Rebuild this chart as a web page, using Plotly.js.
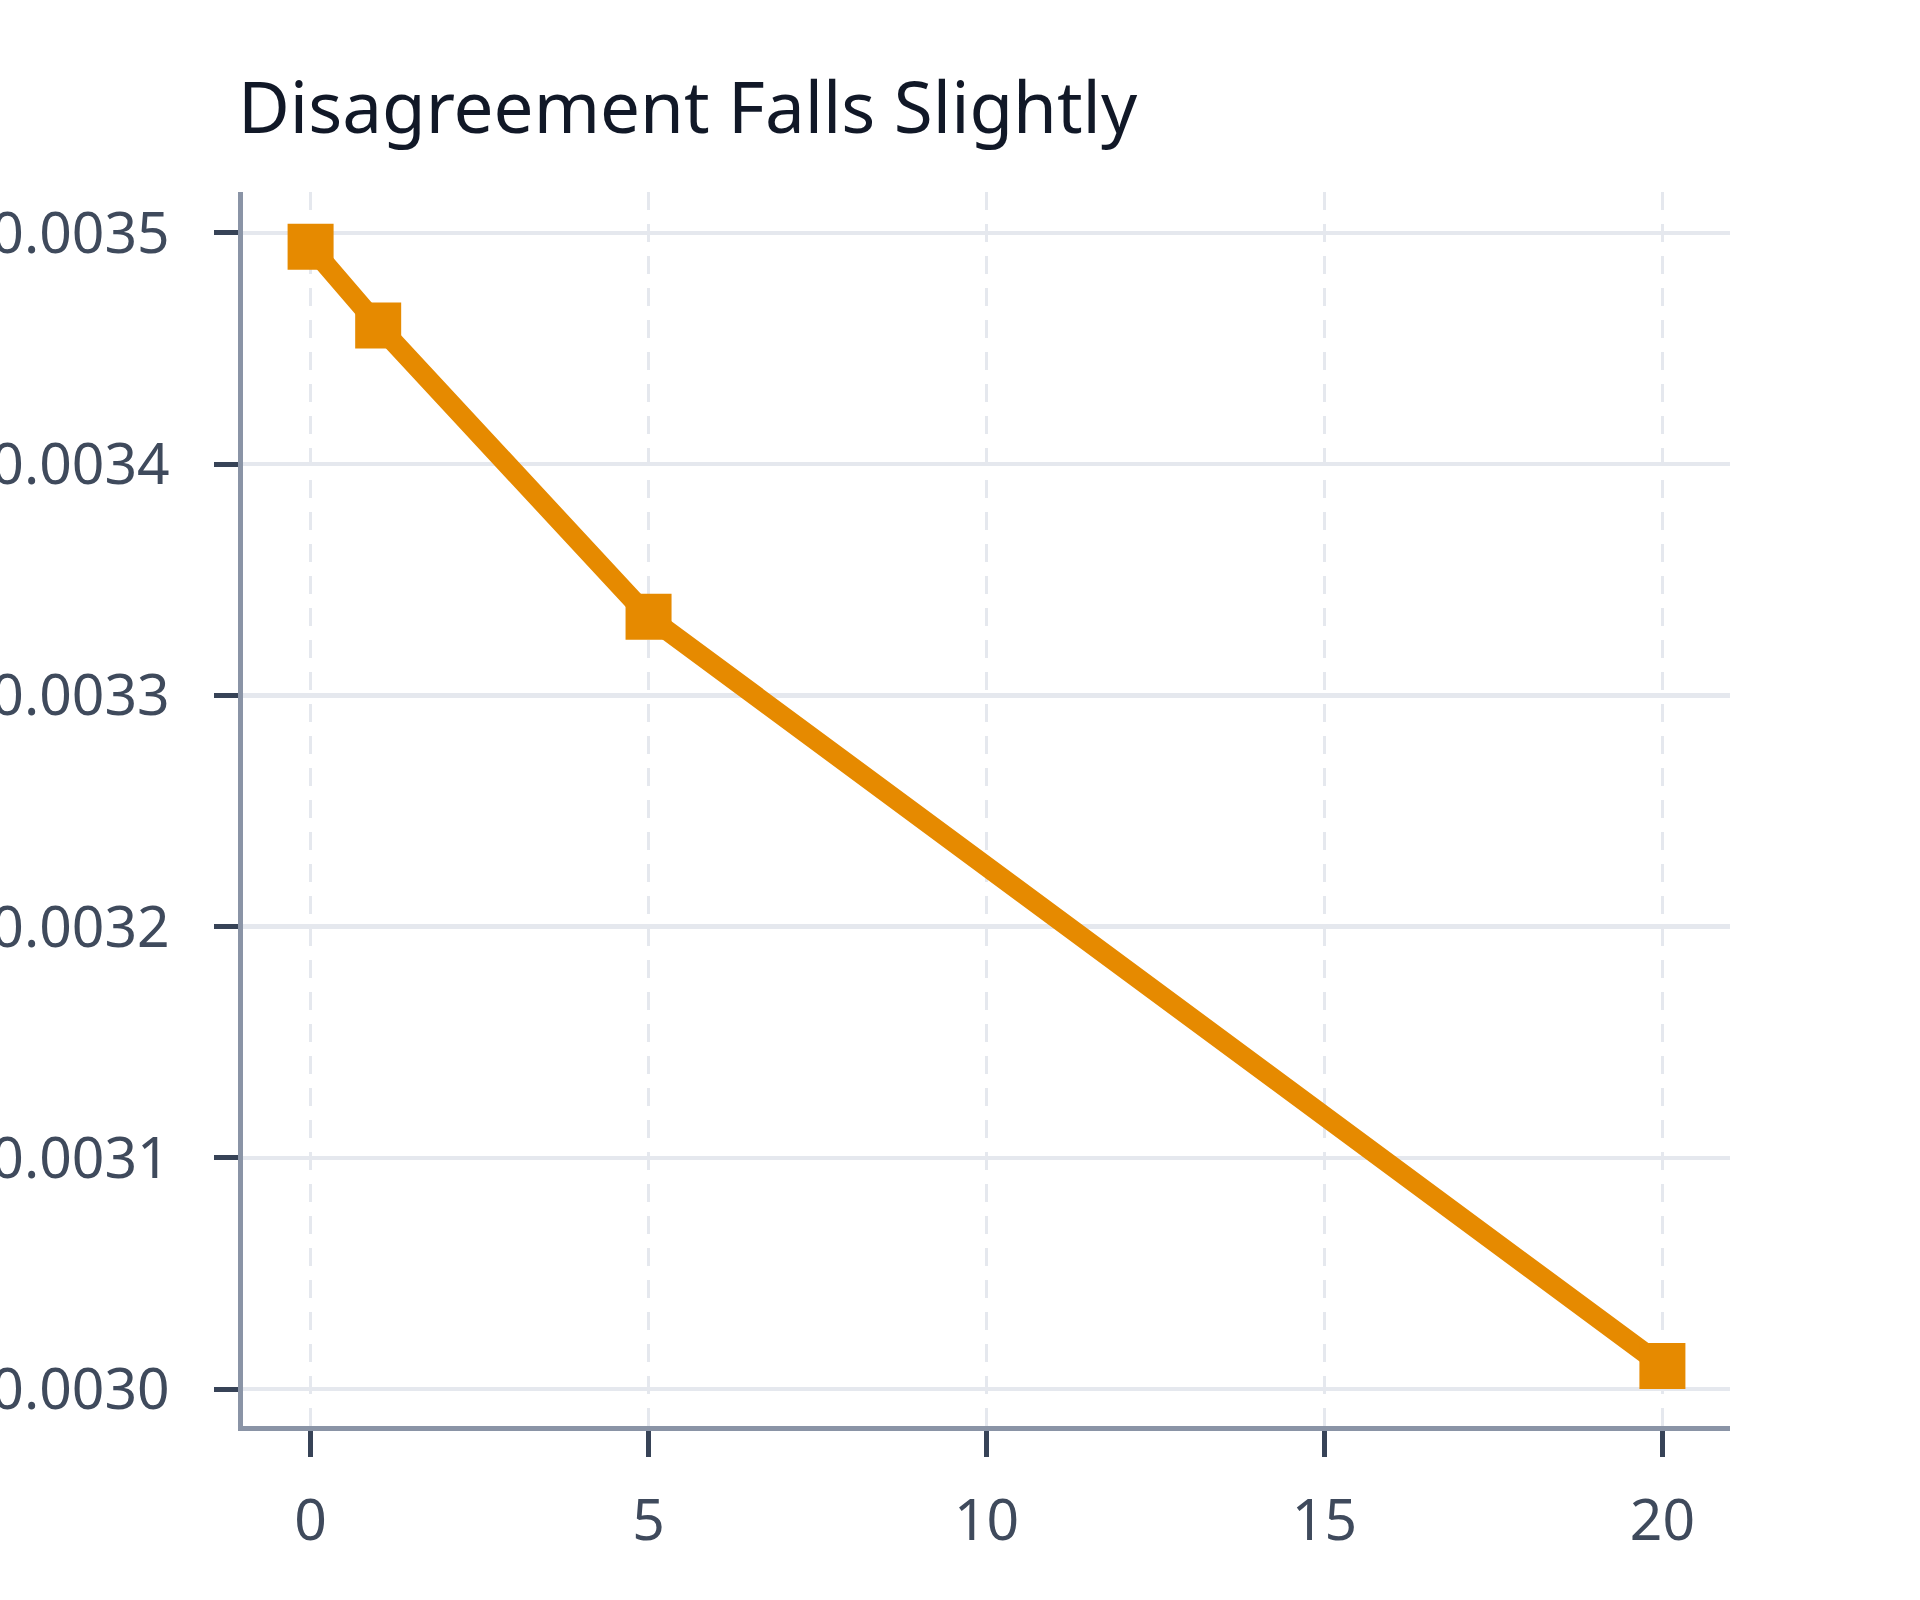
<!DOCTYPE html>
<html>
<head>
<meta charset="utf-8">
<script src="https://cdn.plot.ly/plotly-3.0.1.min.js"></script>
<style>html,body{margin:0;padding:0;background:#fff;}#chart{width:1920px;height:1600px;}</style>
</head>
<body>
<div id="chart"></div>
<script>
// Data
const steps = [0, 1, 5, 20];
const disagreement = [0.003494, 0.003460, 0.003334, 0.003010];
const xTicks = [0, 5, 10, 15, 20];
const xTickLabels = ["0", "5", "10", "15", "20"];
const yTicks = [0.0030, 0.0031, 0.0032, 0.0033, 0.0034, 0.0035];
const yTickLabels = ["0.0030", "0.0031", "0.0032", "0.0033", "0.0034", "0.0035"];
const chartTitle = "Disagreement Falls Slightly";

const orange = "#e68a00";
const fontFamily = "'Noto Sans', 'Open Sans', sans-serif";

const trace = {
  x: steps,
  y: disagreement,
  type: "scatter",
  mode: "lines+markers",
  line: {color: orange, width: 20},
  marker: {symbol: "square", size: 46, color: orange},
  showlegend: false,
  hoverinfo: "x+y"
};

const layout = {
  width: 1920,
  height: 1600,
  paper_bgcolor: "#ffffff",
  plot_bgcolor: "#ffffff",
  margin: {l: 243, r: 190, t: 192, b: 174, pad: 0},
  font: {family: fontFamily, color: "#3f4a5c"},
  title: {
    text: chartTitle,
    font: {family: fontFamily, size: 71, color: "#111827"},
    xref: "container", yref: "container",
    x: 238 / 1920, xanchor: "left",
    y: 1 - 108 / 1600, yanchor: "middle"
  },
  xaxis: {
    range: [-1, 21],
    tickmode: "array",
    tickvals: xTicks,
    ticktext: xTickLabels,
    ticks: "outside",
    ticklen: 26,
    tickwidth: 5,
    tickcolor: "#374357",
    tickfont: {family: fontFamily, size: 57, color: "#3f4a5c"},
    ticklabelstandoff: 15,
    showline: true,
    linecolor: "#8a94a6",
    linewidth: 5,
    showgrid: true,
    gridcolor: "#e5e8ee",
    gridwidth: 3.5,
    griddash: "18px,14px",
    zeroline: false,
    mirror: false
  },
  yaxis: {
    range: [0.002984, 0.0035177],
    tickmode: "array",
    tickvals: yTicks,
    ticktext: yTickLabels,
    ticks: "outside",
    ticklen: 24,
    tickwidth: 5,
    tickcolor: "#374357",
    tickfont: {family: fontFamily, size: 57, color: "#3f4a5c"},
    ticklabelstandoff: 33,
    showline: true,
    linecolor: "#8a94a6",
    linewidth: 5,
    showgrid: true,
    gridcolor: "#e5e8ee",
    gridwidth: 4.5,
    zeroline: false,
    mirror: false
  }
};

Plotly.newPlot("chart", [trace], layout, {displayModeBar: false, staticPlot: true});
</script>
</body>
</html>
